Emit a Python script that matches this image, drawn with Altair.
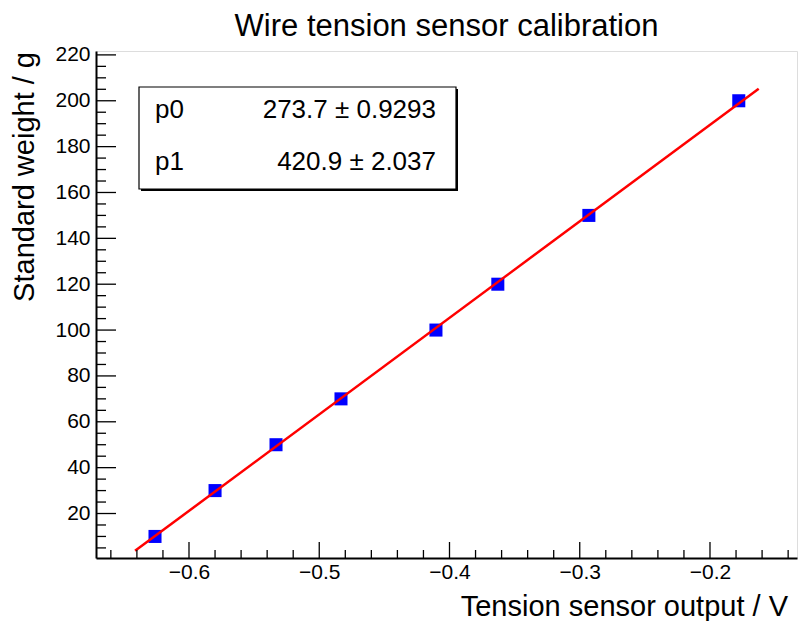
import altair as alt
import pandas as pd

# ---- data ----
x_volts = [-0.6261, -0.5800, -0.5332, -0.4833, -0.4104, -0.3629, -0.2930, -0.1779]
y_grams = [10, 30, 50, 70, 100, 120, 150, 200]

fit_names = ["p0", "p1"]
fit_values = ["273.7", "420.9"]
fit_errors = ["0.9293", "2.037"]
fit_p0 = 273.7
fit_p1 = 420.9
fit_range = [-0.6414, -0.1626]

x_major = [-0.6, -0.5, -0.4, -0.3, -0.2]
x_minor = [-0.66, -0.64, -0.62, -0.58, -0.56, -0.54, -0.52, -0.48, -0.46, -0.44,
           -0.42, -0.38, -0.36, -0.34, -0.32, -0.28, -0.26, -0.24, -0.22, -0.18,
           -0.16, -0.14]
y_major = [20, 40, 60, 80, 100, 120, 140, 160, 180, 200, 220]
y_minor = [5, 10, 15, 25, 30, 35, 45, 50, 55, 65, 70, 75, 85, 90, 95, 105, 110,
           115, 125, 130, 135, 145, 150, 155, 165, 170, 175, 185, 190, 195, 205,
           210, 215]

title_text = "Wire tension sensor calibration"
x_title = "Tension sensor output / V"
y_title = "Standard weight / g"

x_domain = [-0.6714, -0.1332]
y_domain = [0.6, 221.7]

W, H = 701, 507
FONT = "Liberation Sans"

xs = alt.Scale(domain=x_domain, nice=False, zero=False)
ys = alt.Scale(domain=y_domain, nice=False, zero=False)

x_axis = alt.Axis(values=x_major, ticks=False, grid=False, domain=True,
                  domainColor="black", domainWidth=2,
                  labelFont=FONT, labelFontSize=21, labelColor="black",
                  labelPadding=3, labelFlush=False,
                  labelExpr="replace(format(datum.value, '.1f'), '-', '\u2212')")
y_axis = alt.Axis(values=y_major, ticks=False, grid=False, domain=True,
                  domainColor="black", domainWidth=2,
                  labelFont=FONT, labelFontSize=21, labelColor="black",
                  labelPadding=6, labelFlush=False, format="d")

pts = pd.DataFrame({"x": x_volts, "y": y_grams})
fit_df = pd.DataFrame({"x": fit_range,
                       "y": [fit_p0 + fit_p1 * v for v in fit_range]})

points = alt.Chart(pts).mark_square(size=170, color="#0000ff", opacity=1).encode(
    x=alt.X("x:Q", scale=xs, title=None, axis=x_axis),
    y=alt.Y("y:Q", scale=ys, title=None, axis=y_axis),
)

fit_line = alt.Chart(fit_df).mark_line(color="#ff0000", strokeWidth=2.5).encode(
    x=alt.X("x:Q", scale=xs, title=None, axis=x_axis),
    y=alt.Y("y:Q", scale=ys, title=None, axis=y_axis),
)

def xticks(vals, length):
    return alt.Chart(pd.DataFrame({"v": vals})).mark_rule(color="black", strokeWidth=1.3).encode(
        x=alt.X("v:Q", scale=xs, title=None, axis=x_axis),
        y=alt.value(H), y2=alt.value(H - length))

def yticks(vals, length):
    return alt.Chart(pd.DataFrame({"v": vals})).mark_rule(color="black", strokeWidth=1.3).encode(
        y=alt.Y("v:Q", scale=ys, title=None, axis=y_axis),
        x=alt.value(0), x2=alt.value(length))

def label(text, x, y, size, align="left", angle=0):
    return alt.Chart(pd.DataFrame({"t": [text]})).mark_text(
        font=FONT, fontSize=size, align=align, baseline="alphabetic",
        color="black", angle=angle).encode(
        text="t:N", x=alt.value(x), y=alt.value(y))

shadow = alt.Chart(pd.DataFrame({"a": [0]})).mark_rect(color="black").encode(
    x=alt.value(45), x2=alt.value(362), y=alt.value(38), y2=alt.value(140))
box = alt.Chart(pd.DataFrame({"a": [0]})).mark_rect(
    fill="white", stroke="black", strokeWidth=1.2).encode(
    x=alt.value(43), x2=alt.value(360), y=alt.value(36), y2=alt.value(138))

row_y = [67, 119]
stat_layers = []
for i in range(2):
    stat_layers.append(label(fit_names[i], 59, row_y[i], 26))
    stat_layers.append(label(f"{fit_values[i]} \u00b1 {fit_errors[i]}", 340, row_y[i], 26, align="right"))

chart = alt.layer(
    points,
    fit_line,
    xticks(x_major, 16), xticks(x_minor, 8),
    yticks(y_major, 20), yticks(y_minor, 10),
    shadow, box, *stat_layers,
    label(title_text, W / 2, -15, 31, align="center"),
    label(x_title, 692, 565, 29, align="right"),
    label(y_title, -62, 1, 29, align="right", angle=270),
).properties(
    width=W, height=H,
    autosize=alt.AutoSizeParams(type="none"),
    padding={"left": 96, "top": 51, "right": 1, "bottom": 63},
).configure_view(
    stroke="black", strokeWidth=1
).configure(background="white")

chart.save("out.html", embed_options={"renderer": "svg", "actions": False})
